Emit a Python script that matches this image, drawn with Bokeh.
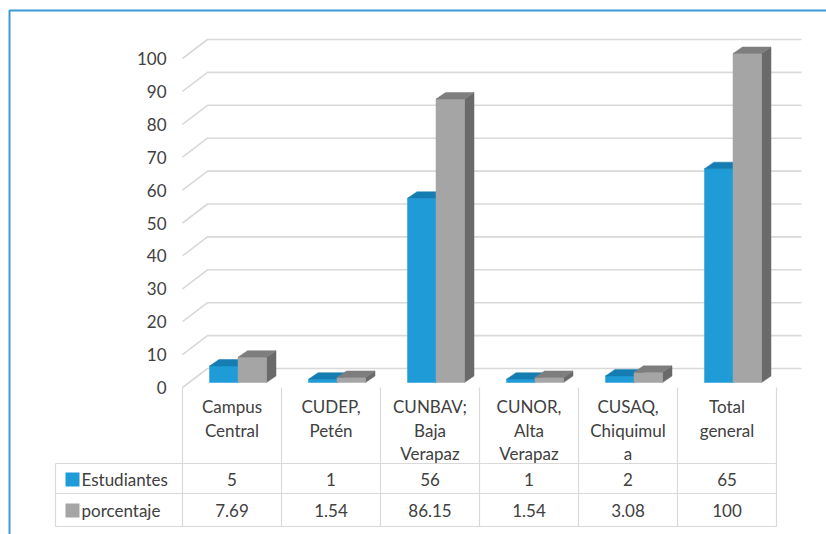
from bokeh.plotting import figure
from bokeh.models import Range1d
from bokeh.core.properties import value
from bokeh.embed import file_html
from bokeh.resources import INLINE

# ---- data ----
categories = ["Campus\nCentral", "CUDEP,\nPetén", "CUNBAV;\nBaja\nVerapaz",
              "CUNOR,\nAlta\nVerapaz", "CUSAQ,\nChiquimul\na", "Total\ngeneral"]
estudiantes = [5, 1, 56, 1, 2, 65]
porcentaje = [7.69, 1.54, 86.15, 1.54, 3.08, 100]
series_names = ["Estudiantes", "porcentaje"]
y_ticks = [0, 10, 20, 30, 40, 50, 60, 70, 80, 90, 100]

# ---- geometry / style ----
W, H = 826, 534
XPX = 99.0        # px per category column
YPX = 3.29        # px per value unit
ORIGIN_X = 182    # canvas px of first column's left edge
ORIGIN_Y = 387    # canvas px (from top) of front zero plane
FONT = "Lato"
TXT = "#404040"
GRID = "#D9D9D9"
BLUE_F, BLUE_T, BLUE_S = "#1F9BD8", "#157DB2", "#12689A"
GRAY_F, GRAY_T, GRAY_S = "#A5A5A5", "#7E7E7E", "#6A6A6A"

def ux(px):
    return px / XPX

def uy(px):
    return px / YPX

n = len(categories)

p = figure(width=W, height=H, output_backend="svg", toolbar_location=None,
           x_range=Range1d(-ORIGIN_X / XPX, (W - ORIGIN_X) / XPX),
           y_range=Range1d(-(H - ORIGIN_Y) / YPX, ORIGIN_Y / YPX),
           x_axis_location=None, y_axis_location=None, min_border=0)
p.outline_line_color = None
p.xgrid.visible = False
p.ygrid.visible = False
p.background_fill_color = "white"
p.border_fill_color = "white"

# ---- outer blue frame (top and left) ----
p.line(x=[ux(-ORIGIN_X + 9), ux(-ORIGIN_X + 9), ux(W - ORIGIN_X)],
       y=[-uy(H - ORIGIN_Y), uy(ORIGIN_Y - 10), uy(ORIGIN_Y - 10)],
       line_color="#3D9AD6", line_width=2)

# ---- 3D back-wall gridlines ----
GX, GY = ux(25), uy(19)
gxs, gys = [], []
for t in y_ticks:
    gxs.append([0, GX, n + GX])
    gys.append([t, t + GY, t + GY])
p.multi_line(xs=gxs, ys=gys, line_color=GRID, line_width=1.6)

# ---- y tick labels ----
p.text(x=[ux(-16)] * len(y_ticks), y=y_ticks, text=[str(t) for t in y_ticks],
       text_align="right", text_baseline="middle", text_font=value(FONT),
       text_font_size="17px", text_color=TXT)

# ---- 3D bars ----
B0 = uy(5)          # bar base (mid depth)
BL = ux(27)         # offset of first bar inside column
BW = ux(28.5)       # bar width
BDX, BDY = ux(9.5), uy(6.5)

def draw_bars(vals, k, cf, ct, cs):
    lefts = [i + BL + k * BW for i in range(n)]
    rights = [l + BW for l in lefts]
    tops = [B0 + v for v in vals]
    side_x = [[r, r + BDX, r + BDX, r] for r in rights]
    side_y = [[B0, B0 + BDY, t + BDY, t] for t in tops]
    p.patches(xs=side_x, ys=side_y, fill_color=cs, line_color=cs, line_width=0.5)
    p.quad(left=lefts, right=rights, bottom=[B0] * n, top=tops,
           fill_color=cf, line_color=cf, line_width=0.5)
    top_x = [[l, r, r + BDX, l + BDX] for l, r in zip(lefts, rights)]
    top_y = [[t, t, t + BDY, t + BDY] for t in tops]
    p.patches(xs=top_x, ys=top_y, fill_color=ct, line_color=ct, line_width=0.5)

draw_bars(estudiantes, 0, BLUE_F, BLUE_T, BLUE_S)
draw_bars(porcentaje, 1, GRAY_F, GRAY_T, GRAY_S)

# ---- data table ----
ROW1 = -uy(463 - 387)
ROW2 = -uy(493 - 387)
ROW3 = -uy(526 - 387)
LEFT = -ux(182 - 55)
txs, tys = [], []
for yv in (ROW1, ROW2, ROW3):
    txs.append([LEFT, n])
    tys.append([yv, yv])
for i in range(n + 1):
    txs.append([i, i])
    tys.append([0, ROW3])
txs.append([LEFT, LEFT])
tys.append([ROW1, ROW3])
p.multi_line(xs=txs, ys=tys, line_color=GRID, line_width=1.2)

# header labels (wrapped category names)
hx, hy, ht = [], [], []
for i, c in enumerate(categories):
    for j, line in enumerate(c.split("\n")):
        hx.append(i + 0.5)
        hy.append(-uy(406 - 387 + 23.5 * j))
        ht.append(line)
p.text(x=hx, y=hy, text=ht, text_align="center", text_baseline="middle",
       text_font=value(FONT), text_font_size="17px", text_color=TXT)

# value rows
r1y, r2y = -uy(479 - 387), -uy(510 - 387)
p.text(x=[i + 0.5 for i in range(n)], y=[r1y] * n,
       text=[f"{v:g}" for v in estudiantes], text_align="center",
       text_baseline="middle", text_font=value(FONT), text_font_size="17px",
       text_color=TXT)
p.text(x=[i + 0.5 for i in range(n)], y=[r2y] * n,
       text=[f"{v:g}" for v in porcentaje], text_align="center",
       text_baseline="middle", text_font=value(FONT), text_font_size="17px",
       text_color=TXT)

# row labels with legend keys
p.scatter(x=[-ux(182 - 72)] * 2, y=[r1y, r2y], marker="square", size=14,
          fill_color=[BLUE_F, GRAY_F], line_color=None)
p.text(x=[-ux(182 - 81)] * 2, y=[r1y, r2y], text=series_names,
       text_align="left", text_baseline="middle", text_font=value(FONT),
       text_font_size="17px", text_color=TXT)

open("out.html", "w").write(file_html(p, INLINE))
